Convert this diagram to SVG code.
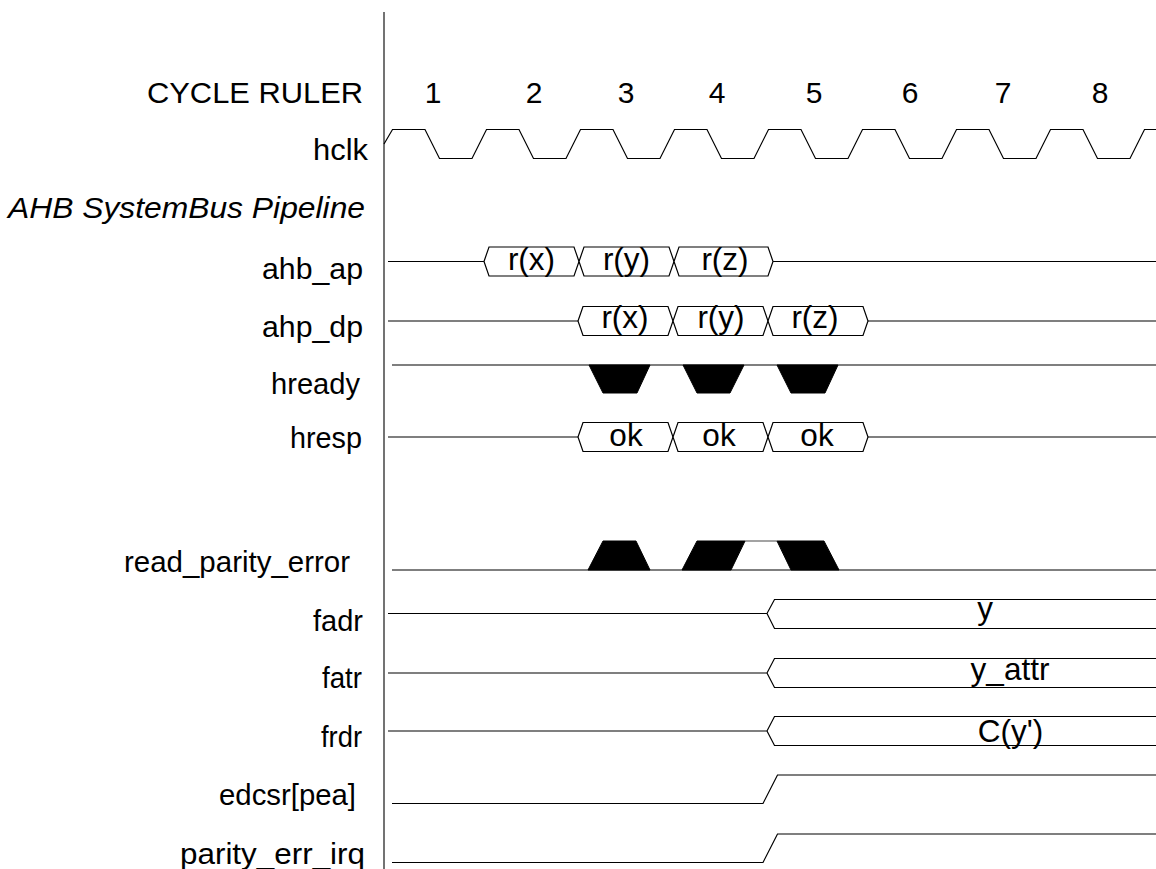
<svg xmlns="http://www.w3.org/2000/svg" width="1156" height="869" viewBox="0 0 1156 869">
<style>
text{font-family:"Liberation Sans",Arial,Helvetica,sans-serif;fill:#000}
.ls{font-size:29.5px}
.num{font-size:30px;text-anchor:middle}
.bt{font-size:31.5px;text-anchor:middle}
.w{fill:none;stroke:#000;stroke-width:1.2;stroke-linejoin:miter}
.bus{fill:#fff;stroke:#000;stroke-width:1.2}
.blk{fill:#000;stroke:#000;stroke-width:1}
</style>
<rect width="1156" height="869" fill="#fff"/>
<g id="divider">
<line x1="384" y1="12" x2="384" y2="869" stroke="#444" stroke-width="1.5"/>
</g>
<g id="cycle_ruler">
<text class="ls" x="147" y="103" textLength="216" lengthAdjust="spacingAndGlyphs">CYCLE RULER</text>
<text class="num" x="433" y="103">1</text>
<text class="num" x="534" y="103">2</text>
<text class="num" x="626" y="103">3</text>
<text class="num" x="717" y="103">4</text>
<text class="num" x="814" y="103">5</text>
<text class="num" x="910" y="103">6</text>
<text class="num" x="1003" y="103">7</text>
<text class="num" x="1100" y="103">8</text>
</g>
<g id="hclk">
<text class="ls" x="313" y="160" textLength="55" lengthAdjust="spacingAndGlyphs">hclk</text>
<path class="w" d="M384,144 L392.5,129.5 H425 L439.5,158.5 H472 L486.5,129.5 H519 L533.5,158.5 H566 L580.5,129.5 H613 L627.5,158.5 H660 L674.5,129.5 H707 L721.5,158.5 H754 L768.5,129.5 H801 L815.5,158.5 H848 L862.5,129.5 H895 L909.5,158.5 H942 L956.5,129.5 H989 L1003.5,158.5 H1036 L1050.5,129.5 H1083 L1097.5,158.5 H1130 L1144.5,129.5 H1156"/>
</g>
<g id="group_title">
<text class="ls" x="8" y="218" font-style="italic" textLength="357" lengthAdjust="spacingAndGlyphs">AHB SystemBus Pipeline</text>
</g>
<g id="ahb_ap">
<text class="ls" x="262" y="279" textLength="101" lengthAdjust="spacingAndGlyphs">ahb_ap</text>
<path class="w" d="M388,261.5 H484 M773,261.5 H1156"/>
<polygon class="bus" points="484,261.5 489,247 574,247 579,261.5 574,276 489,276"/>
<polygon class="bus" points="579,261.5 584,247 669,247 674,261.5 669,276 584,276"/>
<polygon class="bus" points="674,261.5 679,247 768,247 773,261.5 768,276 679,276"/>
<text class="bt" x="531.5" y="269.5">r(x)</text>
<text class="bt" x="626.5" y="269.5">r(y)</text>
<text class="bt" x="725" y="269.5">r(z)</text>
</g>
<g id="ahp_dp">
<text class="ls" x="262" y="337" textLength="101" lengthAdjust="spacingAndGlyphs">ahp_dp</text>
<path class="w" d="M388,321 H578 M868,321 H1156"/>
<polygon class="bus" points="578,321 583,306.5 668,306.5 673,321 668,335.5 583,335.5"/>
<polygon class="bus" points="673,321 678,306.5 763,306.5 768,321 763,335.5 678,335.5"/>
<polygon class="bus" points="768,321 773,306.5 863,306.5 868,321 863,335.5 773,335.5"/>
<text class="bt" x="625" y="328">r(x)</text>
<text class="bt" x="721" y="328">r(y)</text>
<text class="bt" x="815" y="328">r(z)</text>
</g>
<g id="hready">
<text class="ls" x="271" y="394" textLength="89" lengthAdjust="spacingAndGlyphs">hready</text>
<path class="w" d="M392,365 H1156"/>
<polygon class="blk" points="589,365 650,365 637,393 603,393"/>
<polygon class="blk" points="683,365 744,365 730,393 697,393"/>
<polygon class="blk" points="777,365 838,365 825,393 791,393"/>
</g>
<g id="hresp">
<text class="ls" x="290" y="448" textLength="72" lengthAdjust="spacingAndGlyphs">hresp</text>
<path class="w" d="M388,437 H578 M868,437 H1156"/>
<polygon class="bus" points="578,437 583,422.5 668,422.5 673,437 668,451.5 583,451.5"/>
<polygon class="bus" points="673,437 678,422.5 763,422.5 768,437 763,451.5 678,451.5"/>
<polygon class="bus" points="768,437 773,422.5 863,422.5 868,437 863,451.5 773,451.5"/>
<text class="bt" x="626" y="446">ok</text>
<text class="bt" x="719" y="446">ok</text>
<text class="bt" x="817" y="446">ok</text>
</g>
<g id="read_parity_error">
<text class="ls" x="124" y="572" textLength="226" lengthAdjust="spacingAndGlyphs">read_parity_error</text>
<path class="w" d="M392,570 H1156"/>
<line x1="745" y1="541" x2="777" y2="541" stroke="#666" stroke-width="1.2"/>
<polygon class="blk" points="588,570 603,541 636,541 650,570"/>
<polygon class="blk" points="682,570 697,541 745,541 731,570"/>
<polygon class="blk" points="777,541 824,541 839,570 791,570"/>
</g>
<g id="fadr">
<text class="ls" x="313" y="631" textLength="50" lengthAdjust="spacingAndGlyphs">fadr</text>
<path class="w" d="M388,613.5 H767 L774.5,599.5 H1156 M767,613.5 L774.5,628.5 H1156"/>
<text class="bt" x="985" y="619">y</text>
</g>
<g id="fatr">
<text class="ls" x="322" y="688" textLength="40" lengthAdjust="spacingAndGlyphs">fatr</text>
<path class="w" d="M388,673 H767 L774.5,658.5 H1156 M767,673 L774.5,687.5 H1156"/>
<text class="bt" x="1010" y="680">y_attr</text>
</g>
<g id="frdr">
<text class="ls" x="321" y="747" textLength="41" lengthAdjust="spacingAndGlyphs">frdr</text>
<path class="w" d="M388,731 H767 L774.5,716.5 H1156 M767,731 L774.5,745.5 H1156"/>
<text class="bt" x="1010.5" y="742">C(y')</text>
</g>
<g id="edcsr_pea">
<text class="ls" x="219" y="805" textLength="137" lengthAdjust="spacingAndGlyphs">edcsr[pea]</text>
<path class="w" d="M392,803.5 H763 L777.5,775 H1156"/>
</g>
<g id="parity_err_irq">
<text class="ls" x="180" y="864" textLength="185" lengthAdjust="spacingAndGlyphs">parity_err_irq</text>
<path class="w" d="M392,862.5 H763 L777.5,834 H1156"/>
</g>
</svg>
